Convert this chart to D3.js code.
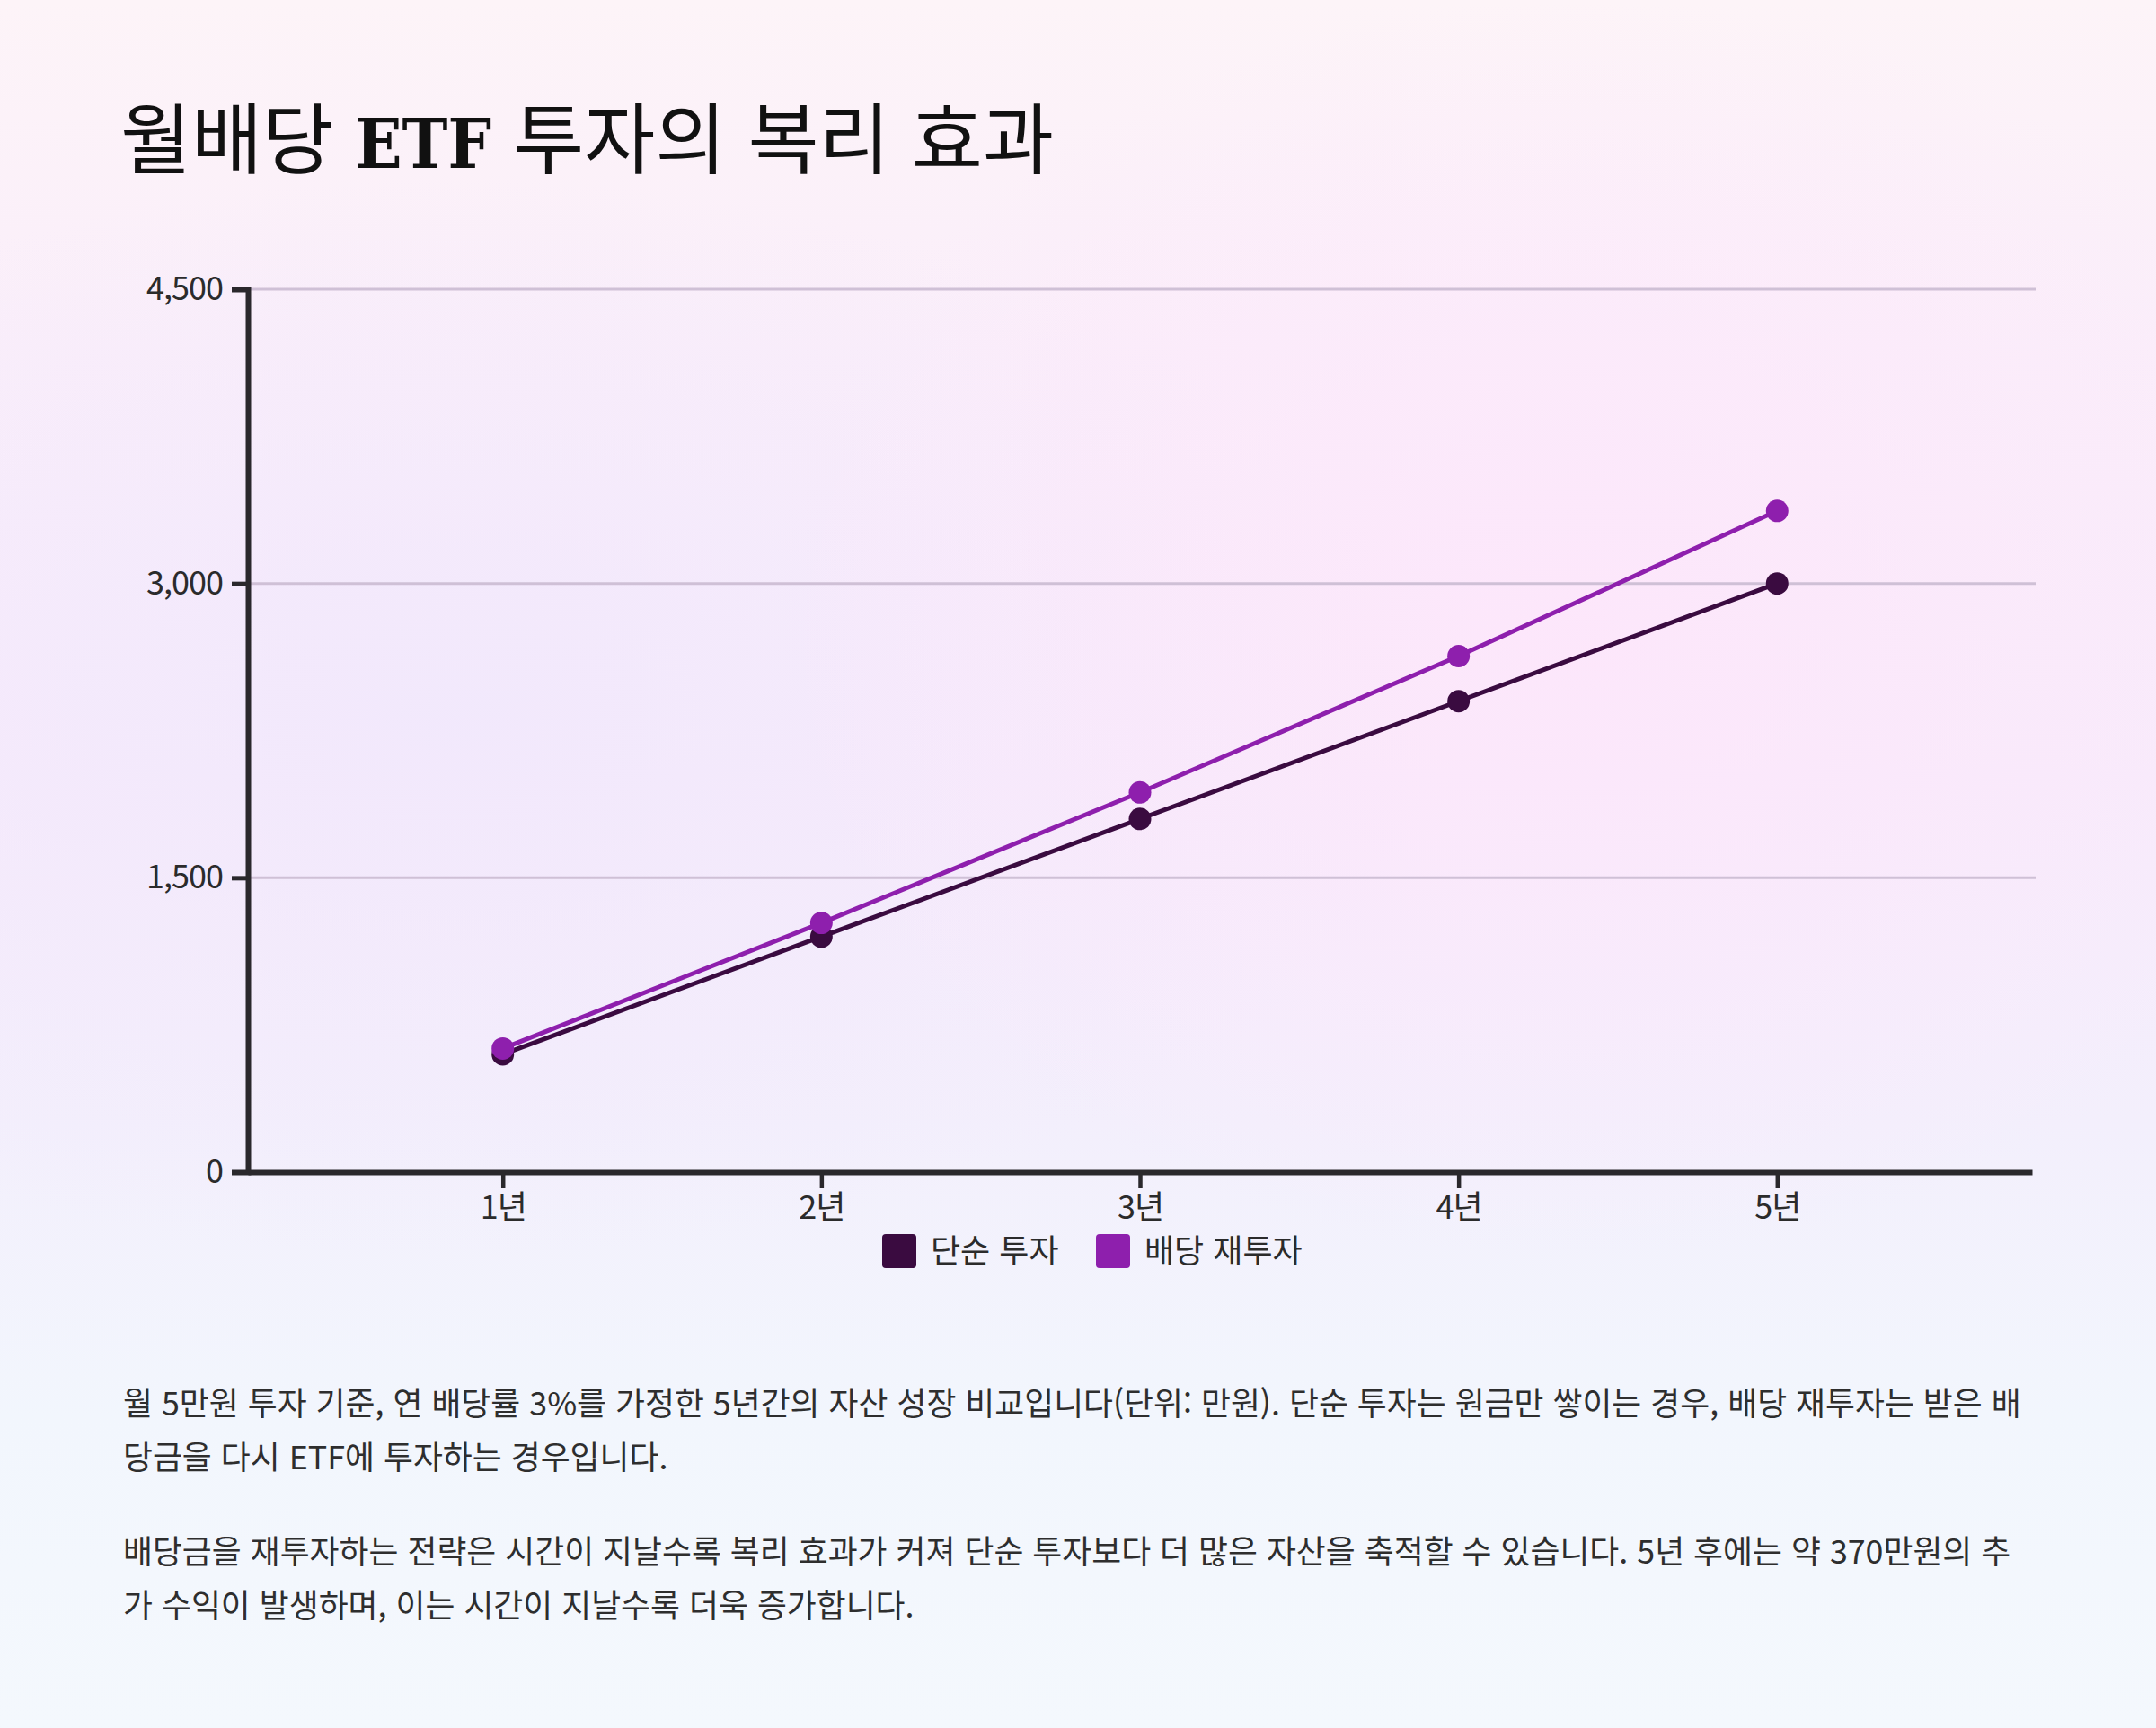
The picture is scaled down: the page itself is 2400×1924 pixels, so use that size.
<!DOCTYPE html>
<html lang="ko">
<head>
<meta charset="utf-8">
<script src="https://cdn.jsdelivr.net/npm/d3@7"></script>
<style>
  html, body { margin: 0; padding: 0; }
  body {
    width: 2400px; height: 1924px; overflow: hidden; position: relative;
    background:
      radial-gradient(ellipse 900px 700px at 1750px 700px, rgba(253,230,251,0.9), rgba(253,230,251,0) 100%),
      radial-gradient(ellipse 1100px 600px at 500px 800px, rgba(241,232,252,0.9), rgba(241,232,252,0) 100%),
      linear-gradient(180deg, #fdf4f8 0%, #faeefa 20%, #f7ebfb 45%, #f3effc 65%, #f2f6fd 82%, #f4f8fd 100%);
    font-family: "Noto Sans CJK KR", "Noto Sans", sans-serif;
  }
  #chart { position: absolute; left: 0; top: 0; }
  .notes { position: absolute; left: 137px; top: 1530px; width: 2125px; }
  .notes p { margin: 0 0 45px 0; font-size: 35.8px; line-height: 60px; color: #2e2e2e; }
  .axis text { font-family: "Noto Sans CJK KR", sans-serif; font-size: 36px; fill: #2b2b2b; letter-spacing: -1px; }
  .axis path, .axis line { stroke: #2a282c; }
</style>
</head>
<body>
<div id="chart"></div>
<div class="notes">
  <p>월 5만원 투자 기준, 연 배당률 3%를 가정한 5년간의 자산 성장 비교입니다(단위: 만원). 단순 투자는 원금만 쌓이는 경우, 배당 재투자는 받은 배당금을 다시 ETF에 투자하는 경우입니다.</p>
  <p>배당금을 재투자하는 전략은 시간이 지날수록 복리 효과가 커져 단순 투자보다 더 많은 자산을 축적할 수 있습니다. 5년 후에는 약 370만원의 추가 수익이 발생하며, 이는 시간이 지날수록 더욱 증가합니다.</p>
</div>
<script>
// data
let years = ["1년", "2년", "3년", "4년", "5년"];
let simpleValues = [600, 1200, 1800, 2400, 3000];
let reinvestValues = [630, 1270, 1935, 2630, 3370];
let seriesNames = ["단순 투자", "배당 재투자"];
let seriesColors = ["#3a0b40", "#8e1fad"];
let yTicks = [0, 1500, 3000, 4500];

let width = 2400, height = 1924;
let plot = {left: 276, right: 2262, top: 322, bottom: 1305};

let svg = d3.select("#chart").append("svg")
  .attr("width", width)
  .attr("height", height);

// title: korean in sans, ETF in bold serif
let title = svg.append("text")
  .attr("x", 134)
  .attr("y", 187)
  .style("white-space", "pre")
  .attr("fill", "#111");
title.append("tspan").style("font-family", "'Noto Sans CJK KR'").style("font-size", "86px").style("font-weight", 400).text("월배당 ");
title.append("tspan")
  .style("font-family", "'DejaVu Serif Condensed', 'DejaVu Serif'")
  .style("font-stretch", "condensed")
  .style("font-size", "76px")
  .style("font-weight", 700)
  .text("ETF");
title.append("tspan").style("font-family", "'Noto Sans CJK KR'").style("font-size", "86px").style("font-weight", 400).text(" 투자의 복리 효과");

let xScale = d3.scalePoint()
  .domain(years)
  .range([plot.left, plot.right])
  .padding(0.8);

let yScale = d3.scaleLinear()
  .domain([0, 4500])
  .range([plot.bottom, plot.top]);

// gridlines
svg.append("g")
  .selectAll("line")
  .data(yTicks.filter(d => d > 0))
  .join("line")
  .attr("x1", plot.left)
  .attr("x2", plot.right + 4)
  .attr("y1", d => yScale(d))
  .attr("y2", d => yScale(d))
  .attr("stroke", "#cfc0d6")
  .attr("stroke-width", 3);

let yAxis = d3.axisLeft(yScale)
  .tickValues(yTicks)
  .tickFormat(d3.format(","))
  .tickSize(18)
  .tickSizeOuter(18)
  .tickPadding(10);

let gy = svg.append("g")
  .attr("class", "axis")
  .attr("transform", "translate(" + plot.left + ",0)")
  .call(yAxis);
gy.select(".domain").attr("stroke-width", 6);
gy.selectAll(".tick line").attr("stroke-width", 5);

let xAxis = d3.axisBottom(xScale)
  .tickSize(18)
  .tickSizeOuter(0)
  .tickPadding(8);

let gx = svg.append("g")
  .attr("class", "axis")
  .attr("transform", "translate(0," + plot.bottom + ")")
  .call(xAxis);
gx.select(".domain").attr("stroke-width", 6);
gx.selectAll(".tick line").attr("stroke-width", 4.5);

// lines + points
let line = d3.line()
  .x((d, i) => xScale(years[i]))
  .y(d => yScale(d));

[simpleValues, reinvestValues].forEach(function (vals, k) {
  let g = svg.append("g").attr("class", "series");
  g.append("path")
    .datum(vals)
    .attr("d", line)
    .attr("fill", "none")
    .attr("stroke", seriesColors[k])
    .attr("stroke-width", 5);
  g.selectAll("circle")
    .data(vals)
    .join("circle")
    .attr("cx", (d, i) => xScale(years[i]))
    .attr("cy", d => yScale(d))
    .attr("r", 12.5)
    .attr("fill", seriesColors[k]);
});

// legend
let legend = svg.append("g").attr("transform", "translate(982,1374)");
let legendX = [0, 238];
seriesNames.forEach(function (name, k) {
  let item = legend.append("g").attr("transform", "translate(" + legendX[k] + ",0)");
  item.append("rect")
    .attr("width", 38)
    .attr("height", 38)
    .attr("rx", 4)
    .attr("fill", seriesColors[k]);
  item.append("text")
    .attr("x", 54)
    .attr("y", 19)
    .attr("dy", "0.36em")
    .style("font-family", "'Noto Sans CJK KR'")
    .style("font-size", "36px")
    .attr("fill", "#2b2b2b")
    .text(name);
});
</script>
</body>
</html>
